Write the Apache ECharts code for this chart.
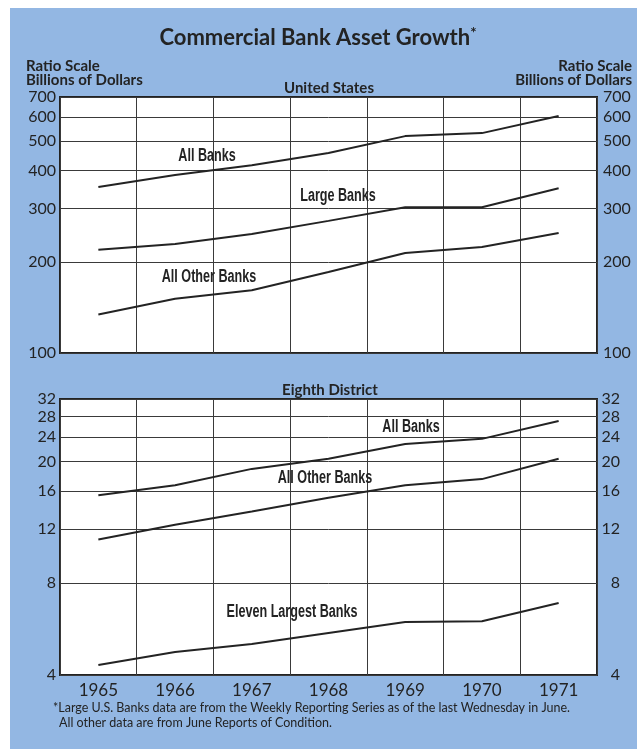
<!DOCTYPE html>
<html><head><meta charset="utf-8">
<script src="https://cdn.jsdelivr.net/npm/echarts@6/dist/echarts.min.js"></script>
<style>html,body{margin:0;padding:0;background:#fff}#c{width:637px;height:749px}</style>
</head><body><div id="c"></div>
<script>
const years = ['1965','1966','1967','1968','1969','1970','1971'];
const usAllBanks = [353,387,417,457,520,532,606];
const usLargeBanks = [219,229,247,273,303,303,350];
const usAllOtherBanks = [134,151,161,185,214,224,249];
const d8AllBanks = [15.5,16.7,18.9,20.4,22.8,23.7,27.1];
const d8AllOtherBanks = [11.1,12.4,13.7,15.2,16.7,17.5,20.4];
const d8ElevenLargest = [4.31,4.76,5.05,5.49,5.96,6.0,6.88];
const usTicks = [100,200,300,400,500,600,700];
const d8Ticks = [4,8,12,16,20,24,28,32];

const INK = '#232323';
const NUMFONT = 'Lato';
const chart = echarts.init(document.getElementById('c'), null, {renderer:'canvas'});

function xAx(grid, showLabels){
  return {gridIndex:grid, type:'category', data:years, boundaryGap:true,
    axisLine:{show:false}, axisTick:{show:false},
    axisLabel:{show:showLabels, interval:0, fontSize:17, color:INK, margin:7, fontFamily:NUMFONT},
    splitLine:{show:true, interval:0, lineStyle:{color:'#3a3a3a', width:1}}};
}
function yAx(grid, ticks, mn, mx, pos, split, lab){
  return Object.assign({gridIndex:grid, type:'log', logBase:10, min:mn, max:mx, position:pos,
    axisLine:{show:false},
    axisTick:{show:false, customValues:ticks},
    splitLine:{show:split, lineStyle:{color:'#3a3a3a', width:1}},
    axisLabel:Object.assign({customValues:ticks, fontSize:16, color:INK, fontFamily:NUMFONT, showMinLabel:true, showMaxLabel:true}, lab)
  });
}
function line(x, y, data){
  return {type:'line', xAxisIndex:x, yAxisIndex:y, data:data, symbol:'none', silent:true,
    lineStyle:{color:INK, width:2}, z:5};
}
function txt(x, y, s, font, align){
  return {type:'text', x:x, y:y, style:{text:s, font:font, fill:INK, textAlign:align||'center', textVerticalAlign:'middle'}, z:10};
}
function lbl(x, y, s){
  return {type:'text', x:x, y:y, scaleX:0.7, style:{text:s, font:'bold 18px "Liberation Sans"', fill:INK, textAlign:'center', textVerticalAlign:'middle'}, z:10};
}
const hdrFont = 'bold 15px Lato';

chart.setOption({
  animation:false,
  grid:[
    {left:60, right:40, top:97, height:256, show:true, backgroundColor:'#fff', borderColor:INK, borderWidth:2},
    {left:60, right:40, top:399, height:276, show:true, backgroundColor:'#fff', borderColor:INK, borderWidth:2}
  ],
  xAxis:[xAx(0,false), xAx(1,true)],
  yAxis:[
    yAx(0, usTicks, 100, 700, 'left', true, {margin:4}),
    yAx(0, usTicks, 100, 700, 'right', false, {margin:6}),
    yAx(1, d8Ticks, 4, 32, 'left', true, {margin:4}),
    yAx(1, d8Ticks, 4, 32, 'right', false, {margin:23, align:'right'})
  ],
  series:[
    line(0,0,usAllBanks), line(0,0,usLargeBanks), line(0,0,usAllOtherBanks),
    line(1,2,d8AllBanks), line(1,2,d8AllOtherBanks), line(1,2,d8ElevenLargest)
  ],
  graphic:[
    {type:'rect', shape:{x:10, y:8, width:627, height:741}, style:{fill:'#93b7e3'}, z:-10},
    {type:'text', x:318, y:38, style:{rich:{a:{font:'bold 22px Lato', fill:INK}, s:{font:'bold 15px Lato', fill:INK, verticalAlign:'top', padding:[0,0,10,0]}}, text:'{a|Commercial Bank Asset Growth}{s|*}', textAlign:'center', textVerticalAlign:'middle'}, z:10},
    txt(26, 66, 'Ratio Scale', hdrFont, 'left'),
    txt(26, 80, 'Billions of Dollars', hdrFont, 'left'),
    txt(632, 66, 'Ratio Scale', hdrFont, 'right'),
    txt(632, 80, 'Billions of Dollars', hdrFont, 'right'),
    txt(329, 88, 'United States', hdrFont),
    txt(330, 390, 'Eighth District', hdrFont),
    lbl(207, 156, 'All Banks'),
    lbl(338, 196, 'Large Banks'),
    lbl(209, 277, 'All Other Banks'),
    lbl(411, 427, 'All Banks'),
    lbl(325, 478, 'All Other Banks'),
    lbl(292, 612, 'Eleven Largest Banks'),
    txt(53, 708, '*Large U.S. Banks data are from the Weekly Reporting Series as of the last Wednesday in June.', '12.5px Lato', 'left'),
    txt(59, 723, 'All other data are from June Reports of Condition.', '12.5px Lato', 'left')
  ]
});
</script></body></html>
